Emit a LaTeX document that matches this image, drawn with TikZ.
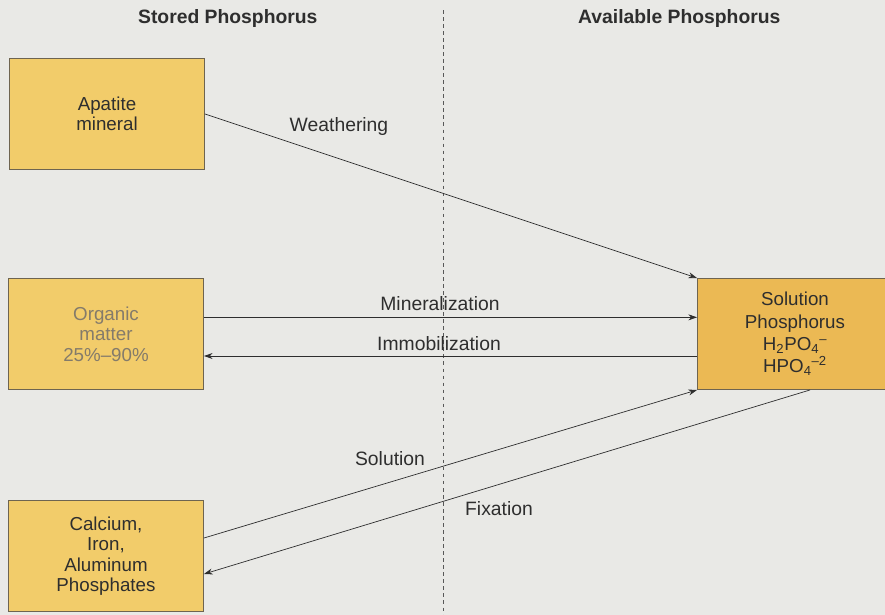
\documentclass[tikz,border=0pt]{standalone}
\usepackage{fontspec}
\setmainfont{Liberation Sans}
\usepackage{tikz}
\usetikzlibrary{arrows.meta, positioning}
\usepackage{xcolor}
\definecolor{paper}{HTML}{E9E9E6}
\definecolor{boxfill}{HTML}{F2CC6A}
\definecolor{solfill}{HTML}{EBB954}
\definecolor{boxline}{HTML}{6E6450}
\definecolor{inkgray}{HTML}{2E2E2E}

\begin{document}
\begin{tikzpicture}[x=0.03cm, y=-0.03cm,
        pbox/.style={draw=boxline, line width=0.8pt, fill=boxfill, align=center,
            minimum width=5.85cm, minimum height=3.33cm, font=\fontsize{16}{17.5}\selectfont, text=inkgray},
        flow/.style={-{Stealth[length=2.6mm, width=1.8mm]}, draw=inkgray, line width=0.6pt},
        lbl/.style={font=\fontsize{16.5}{18}\selectfont, text=inkgray},
        head/.style={font=\bfseries\fontsize{16.5}{18}\selectfont, text=inkgray, anchor=west}]
        \useasboundingbox[fill=paper] (0,0) rectangle (885,615);
        % headings
        \node[head] (stored) at (134,19) {Stored Phosphorus};
        \node[head] (avail) at (574,19) {Available Phosphorus};
        % divider
        \coordinate (divtop) at (443,10);
        \coordinate (divbot) at (443,615);
        \draw[draw=inkgray!80, line width=0.7pt, dash pattern=on 3pt off 3pt] (divtop) -- (divbot);
        % boxes
        \node[pbox] (apatite) at (107,114) {Apatite\\mineral};
        \node[pbox, text=boxline!85] (organic) at (106,334) {Organic\\matter\\25\%--90\%};
        \node[pbox] (calcium) at (106,556) {Calcium,\\Iron,\\Aluminum\\Phosphates};
        \node[pbox, fill=solfill, minimum width=5.85cm, font=\fontsize{16}{19}\selectfont] (solution) at (795,334)
            {Solution\\Phosphorus\\H\textsubscript{2}PO\textsubscript{4}\textsuperscript{--}\\HPO\textsubscript{4}\textsuperscript{--2}};
        % flows
        \draw[flow] (apatite.east) -- (solution.north west);
        \node[lbl] (weath) at (339,127) {Weathering};
        \draw[flow] ([yshift=0.5cm]organic.east) -- ([yshift=0.5cm]solution.west);
        \node[lbl] (mineral) at (440,304) {Mineralization};
        \draw[flow] ([yshift=-0.66cm]solution.west) -- ([yshift=-0.66cm]organic.east);
        \node[lbl] (immob) at (439,344) {Immobilization};
        \draw[flow] ([yshift=0.54cm]calcium.east) -- (solution.south west);
        \node[lbl] (soln) at (390,459) {Solution};
        \draw[flow] ([xshift=0.45cm]solution.south) -- ([yshift=-0.54cm]calcium.east);
        \node[lbl] (fix) at (499,509) {Fixation};
    \end{tikzpicture}
\end{document}
